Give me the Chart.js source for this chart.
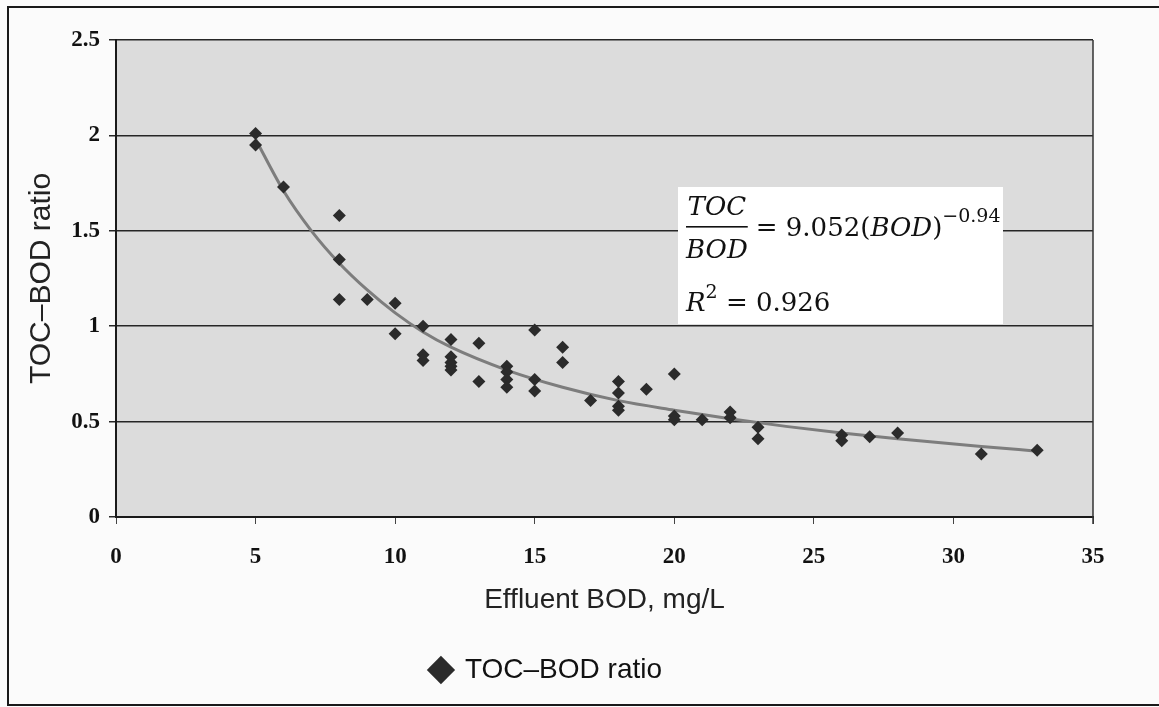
<!DOCTYPE html>
<html>
<head>
<meta charset="utf-8">
<title>TOC-BOD ratio</title>
<script src="https://cdn.jsdelivr.net/npm/chart.js@4.4.3/dist/chart.umd.min.js"></script>
<style>
  html, body { margin: 0; padding: 0; background: #fbfbfb; }
  #wrap { width: 1159px; height: 707px; position: relative; }
</style>
</head>
<body>
<div id="wrap"><canvas id="chart"></canvas></div>
<script>
// Effluent BOD (mg/L) and the measured TOC/BOD ratio, one entry per sample
const bodValues = [5, 5, 6, 8, 8, 8, 9, 10, 10, 11, 11, 11, 12, 12, 12, 12, 12, 13, 13,
    14, 14, 14, 14, 15, 15, 15, 16, 16, 17, 18, 18, 18, 18, 19, 20, 20, 20, 21, 22, 22,
    23, 23, 26, 26, 27, 28, 31, 33];
const ratioValues = [2.01, 1.95, 1.73, 1.58, 1.35, 1.14, 1.14, 1.12, 0.96, 1.00, 0.85, 0.82,
    0.93, 0.84, 0.81, 0.79, 0.77, 0.91, 0.71, 0.79, 0.76, 0.72, 0.68, 0.98, 0.72, 0.66,
    0.89, 0.81, 0.61, 0.71, 0.65, 0.58, 0.56, 0.67, 0.75, 0.53, 0.51, 0.51, 0.55, 0.52,
    0.47, 0.41, 0.43, 0.40, 0.42, 0.44, 0.33, 0.35];

// Power trend line as drawn on the figure
const trendBod = [5, 6, 7, 8, 9, 10, 11, 12, 14, 16, 18, 20, 22, 24, 26, 28, 31, 33];
const trendRatio = [1.98, 1.71, 1.50, 1.33, 1.19, 1.07, 0.97, 0.89, 0.77, 0.68, 0.61, 0.56,
    0.515, 0.475, 0.44, 0.41, 0.37, 0.345];

const xTicks = [0, 5, 10, 15, 20, 25, 30, 35];
const yTicks = [0, 0.5, 1, 1.5, 2, 2.5];

const seriesLabel = 'TOC\u2013BOD ratio';
const xTitle = 'Effluent BOD, mg/L';
const yTitle = 'TOC\u2013BOD ratio';

const sansFont = "'Liberation Sans', Arial, sans-serif";
const tickFont = { family: "'Liberation Serif', 'Times New Roman', serif", size: 23, weight: 'bold' };

// frame round the figure and grey plot background
const framePlugin = {
    id: 'frame',
    beforeDraw(chart) {
        const {ctx, chartArea: a} = chart;
        ctx.save();
        ctx.fillStyle = '#fbfbfb';
        ctx.fillRect(0, 0, chart.width, chart.height);
        ctx.strokeStyle = '#1a1a1a';
        ctx.lineWidth = 2;
        ctx.beginPath();
        ctx.moveTo(1159, 7);
        ctx.lineTo(8, 7);
        ctx.lineTo(8, 705);
        ctx.lineTo(1159, 705);
        ctx.stroke();
        ctx.fillStyle = '#dcdcdc';
        ctx.fillRect(a.left, a.top, a.right - a.left, a.bottom - a.top);
        ctx.restore();
    },
    beforeDatasetsDraw(chart) {
        const {ctx, chartArea: a} = chart;
        ctx.save();
        ctx.strokeStyle = '#333';
        ctx.lineWidth = 1.5;
        ctx.beginPath();
        ctx.moveTo(a.right, a.top);
        ctx.lineTo(a.right, a.bottom + 7);
        ctx.stroke();
        ctx.restore();
    }
};

// equation box of the fitted curve
const equationPlugin = {
    id: 'equation',
    afterDatasetsDraw(chart) {
        const ctx = chart.ctx;
        const serif = "'DejaVu Serif', serif";
        const big = 26, small = 19;
        ctx.save();
        ctx.fillStyle = '#ffffff';
        ctx.fillRect(678, 187, 325, 137);
        ctx.fillStyle = '#111';
        ctx.textBaseline = 'alphabetic';

        // fraction TOC / BOD
        ctx.font = `italic ${big}px ${serif}`;
        const fracW = ctx.measureText('BOD').width;
        const fx = 686;
        ctx.textAlign = 'center';
        ctx.fillText('TOC', fx + fracW / 2, 215);
        ctx.fillText('BOD', fx + fracW / 2, 258);
        ctx.fillRect(fx, 226, fracW, 1.6);
        ctx.textAlign = 'left';

        let x = fx + fracW + 8;
        const put = (text, style, size, y) => {
            ctx.font = `${style} ${size}px ${serif}`;
            ctx.fillText(text, x, y);
            x += ctx.measureText(text).width;
        };
        put('= 9.052(', 'normal', big, 236);
        put('BOD', 'italic', big, 236);
        put(')', 'normal', big, 236);
        put('\u22120.94', 'normal', small, 222);

        x = fx;
        put('R', 'italic', big, 311);
        put('2', 'normal', small, 298);
        put(' = 0.926', 'normal', big, 311);
        ctx.restore();
    }
};

const ctx = document.getElementById('chart');
new Chart(ctx, {
    type: 'scatter',
    data: {
        datasets: [{
            label: seriesLabel,
            data: bodValues.map((b, i) => ({x: b, y: ratioValues[i]})),
            pointStyle: 'rectRot',
            pointRadius: 6.5,
            backgroundColor: '#2b2b2b',
            borderColor: '#2b2b2b',
            borderWidth: 0,
            order: 1
        }, {
            label: 'trend',
            data: trendBod.map((b, i) => ({x: b, y: trendRatio[i]})),
            showLine: true,
            pointRadius: 0,
            borderColor: '#7d7d7d',
            borderWidth: 3,
            cubicInterpolationMode: 'monotone',
            order: 2
        }]
    },
    options: {
        responsive: true,
        maintainAspectRatio: false,
        animation: false,
        layout: { padding: { left: 0, top: 40, right: 66, bottom: 13 } },
        plugins: {
            tooltip: { enabled: false },
            legend: {
                position: 'bottom',
                labels: {
                    filter: item => item.datasetIndex === 0,
                    usePointStyle: true,
                    boxWidth: 20,
                    boxHeight: 20,
                    padding: 10,
                    color: '#111',
                    font: { family: sansFont, size: 28 }
                }
            }
        },
        scales: {
            x: {
                type: 'linear',
                min: 0,
                max: 35,
                afterBuildTicks: s => { s.ticks = xTicks.map(v => ({value: v})); },
                afterFit: s => { s.height = 129; },
                border: { display: true, color: '#1a1a1a', width: 2 },
                grid: { drawOnChartArea: false, drawTicks: true, tickLength: 7, color: '#444' },
                ticks: { color: '#111', font: tickFont, padding: 19, maxRotation: 0,
                    callback: v => String(v) },
                title: {
                    display: true,
                    text: xTitle,
                    color: '#222',
                    font: { family: sansFont, size: 28 },
                    padding: { top: 0, bottom: 29 }
                }
            },
            y: {
                type: 'linear',
                min: 0,
                max: 2.5,
                afterBuildTicks: s => { s.ticks = yTicks.map(v => ({value: v})); },
                afterFit: s => { s.width = 116; },
                border: { display: true, color: '#1a1a1a', width: 2 },
                grid: { color: '#262626', lineWidth: 1.5, tickLength: 7 },
                ticks: { color: '#111', font: tickFont, padding: 9,
                    callback: v => String(v) },
                title: {
                    display: true,
                    text: yTitle,
                    color: '#222',
                    font: { family: sansFont, size: 30 },
                    padding: { top: 24, bottom: 0 }
                }
            }
        }
    },
    plugins: [framePlugin, equationPlugin]
});
</script>
</body>
</html>
